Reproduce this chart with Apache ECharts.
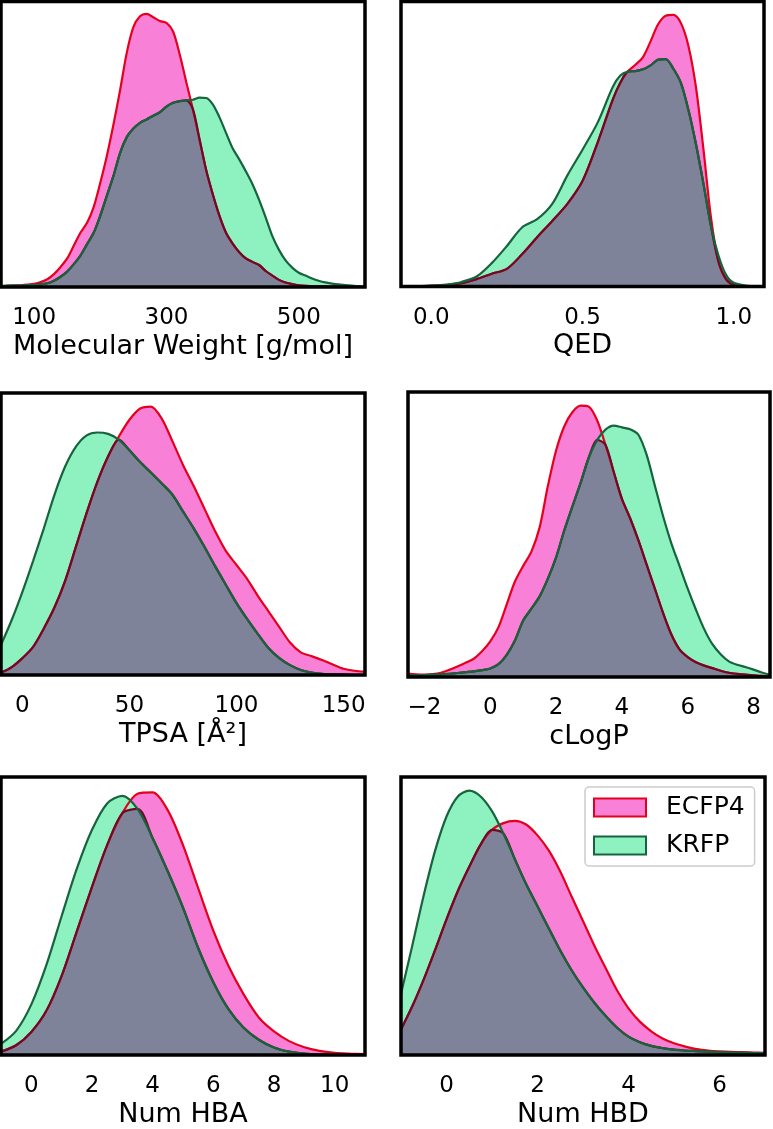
<!DOCTYPE html>
<html>
<head>
    <meta charset="utf-8">
    <title>ECFP4 vs KRFP property distributions</title>
    <script src="https://cdn.jsdelivr.net/npm/echarts@6/dist/echarts.min.js"></script>
</head>
<body style='background-color: #fff;margin:0px;'>
    <div id="main" style="width: 773px;height:1129px;"></div>
    <script type="text/javascript">
        // relative density (fraction of panel height)
        var mwX = [50,60,70,80,90,100,110,120,130,140,150,160,170,180,190,200,210,220,230,240,250,260,270,280,290,300,
                   310,320,330,340,350,360,370,380,390,400,410,420,430,440,450,460,470,480,490,500,510,520,530,540,550,560,570,580,590,600];
        var mwEcfp = [0.003,0.004,0.005,0.006,0.008,0.011,0.017,0.027,0.045,0.07,0.1,0.145,0.19,0.225,0.28,0.365,0.46,0.57,0.69,0.82,0.91,0.948,0.957,0.945,0.932,0.925,
                      0.895,0.815,0.717,0.622,0.517,0.41,0.325,0.25,0.19,0.152,0.122,0.1,0.088,0.077,0.056,0.04,0.025,0.016,0.01,0.006,0.004,0.003,0.002,0.002,0.001,0.001,0.001,0,0,0];
        var mwKrfp = [0.004,0.005,0.005,0.005,0.006,0.007,0.009,0.013,0.022,0.036,0.054,0.08,0.11,0.15,0.19,0.25,0.32,0.39,0.47,0.525,0.555,0.575,0.587,0.6,0.612,0.632,
                      0.645,0.651,0.654,0.656,0.663,0.662,0.64,0.595,0.54,0.486,0.447,0.405,0.36,0.305,0.243,0.178,0.13,0.093,0.068,0.05,0.04,0.03,0.022,0.016,0.012,0.009,0.007,0.005,0.003,0.002];

        var qedX = [-0.1,-0.05,0,0.05,0.1,0.15,0.2,0.25,0.3,0.35,0.4,0.45,0.5,0.55,0.6,0.625,0.65,0.675,0.7,0.725,0.75,0.775,0.8,0.825,0.85,0.875,0.9,0.925,0.95,0.975,1.0,1.05,1.1];
        var qedEcfp = [0,0.001,0.002,0.005,0.012,0.026,0.045,0.062,0.113,0.173,0.23,0.29,0.37,0.505,0.656,0.715,0.755,0.778,0.805,0.86,0.92,0.95,0.953,0.925,0.845,0.7,0.48,0.24,0.085,0.025,0.006,0.001,0];
        var qedKrfp = [0,0.001,0.003,0.007,0.016,0.035,0.082,0.142,0.207,0.236,0.29,0.39,0.48,0.575,0.7,0.74,0.754,0.756,0.762,0.776,0.796,0.798,0.765,0.715,0.62,0.5,0.36,0.21,0.107,0.04,0.013,0.002,0];

        var tpsaX = [-10,-5,0,5,10,15,20,25,30,35,40,45,50,55,60,65,70,75,80,85,90,95,100,105,110,115,120,125,130,135,140,145,150,155,160];
        var tpsaEcfp = [0.008,0.028,0.06,0.1,0.165,0.24,0.335,0.455,0.575,0.685,0.775,0.845,0.905,0.945,0.952,0.91,0.83,0.745,0.67,0.59,0.51,0.44,0.39,0.34,0.28,0.225,0.17,0.115,0.08,0.067,0.053,0.037,0.022,0.015,0.012];
        var tpsaKrfp = [0.107,0.195,0.295,0.405,0.52,0.64,0.74,0.81,0.85,0.86,0.855,0.835,0.797,0.755,0.718,0.68,0.64,0.58,0.52,0.455,0.386,0.32,0.255,0.198,0.145,0.095,0.06,0.035,0.018,0.009,0.004,0.002,0.001,0,0];

        var logpX = [-2.5,-2.25,-2,-1.75,-1.5,-1.25,-1,-0.75,-0.5,-0.25,0,0.25,0.5,0.75,1,1.25,1.5,1.75,2,2.25,2.5,2.75,3,3.25,3.5,3.75,4,4.25,4.5,4.75,
                     5,5.25,5.5,5.75,6,6.25,6.5,6.75,7,7.25,7.5,7.75,8,8.25,8.5];
        var logpEcfp = [0.012,0.009,0.008,0.01,0.015,0.025,0.037,0.05,0.064,0.09,0.125,0.175,0.255,0.335,0.39,0.44,0.525,0.67,0.795,0.88,0.93,0.952,0.948,0.9,0.815,0.72,0.625,0.557,0.48,0.395,
                        0.31,0.225,0.15,0.097,0.07,0.052,0.04,0.031,0.022,0.015,0.011,0.008,0.006,0.004,0.003];
        var logpKrfp = [0.005,0.006,0.007,0.008,0.009,0.011,0.014,0.017,0.02,0.024,0.03,0.045,0.078,0.128,0.198,0.24,0.283,0.345,0.42,0.515,0.6,0.683,0.772,0.832,0.868,0.882,0.876,0.869,0.85,0.78,
                        0.672,0.565,0.47,0.39,0.31,0.236,0.168,0.115,0.08,0.055,0.043,0.035,0.026,0.016,0.008];

        var hbaX = [-1,-0.5,0,0.5,1,1.5,2,2.5,3,3.5,4,4.5,5,5.5,6,6.5,7,7.5,8,8.5,9,9.5,10,10.5,11];
        var hbaEcfp = [0.012,0.035,0.083,0.16,0.285,0.445,0.605,0.755,0.87,0.94,0.945,0.88,0.755,0.6,0.447,0.32,0.218,0.135,0.085,0.05,0.028,0.015,0.008,0.005,0.003];
        var hbaKrfp = [0.04,0.087,0.182,0.325,0.5,0.67,0.81,0.905,0.932,0.885,0.78,0.66,0.53,0.385,0.262,0.165,0.098,0.055,0.027,0.012,0.005,0.002,0.001,0,0];

        var hbdX = [-1,-0.75,-0.5,-0.25,0,0.25,0.5,0.75,1,1.25,1.5,1.75,2,2.25,2.5,2.75,3,3.25,3.5,3.75,4,4.25,4.5,4.75,5,5.25,5.5,5.75,6,6.25,6.5,6.75,7];
        var hbdEcfp = [0.092,0.176,0.272,0.378,0.488,0.59,0.677,0.757,0.81,0.834,0.842,0.829,0.79,0.735,0.66,0.57,0.482,0.393,0.312,0.232,0.168,0.12,0.085,0.059,0.042,0.03,0.021,0.016,0.013,0.011,0.01,0.009,0.008];
        var hbdKrfp = [0.22,0.395,0.575,0.735,0.858,0.93,0.951,0.93,0.877,0.797,0.705,0.615,0.535,0.455,0.376,0.305,0.243,0.188,0.14,0.098,0.066,0.046,0.033,0.025,0.019,0.016,0.014,0.012,0.01,0.009,0.008,0.007,0.006];

        // tick labels per panel
        var mwTicks = [100, 300, 500];
        var qedTicks = [0, 0.5, 1.0];
        var tpsaTicks = [0, 50, 100, 150];
        var logpTicks = [-2, 0, 2, 4, 6, 8];
        var hbaTicks = [0, 2, 4, 6, 8, 10];
        var hbdTicks = [0, 2, 4, 6];

        var PINK = '#f880d6', RED = '#e6001e', MINT = '#8ef2c0', GREEN = '#16643c';
        var GRAY = '#7f8399', MAROON = '#6e0a28';
        var FONT = 'DejaVu Sans';

        var panels = [
            {name: 'Molecular Weight [g/mol]', x: mwX, e: mwEcfp, k: mwKrfp, ticks: mwTicks, min: 50, max: 600, dec: 0,
             rect: {left: 1, top: 1.5, width: 364, height: 285.5}},
            {name: 'QED', x: qedX, e: qedEcfp, k: qedKrfp, ticks: qedTicks, min: -0.1, max: 1.1, dec: 1,
             rect: {left: 401, top: 1.5, width: 363, height: 285}},
            {name: 'TPSA [Å²]', x: tpsaX, e: tpsaEcfp, k: tpsaKrfp, ticks: tpsaTicks, min: -10, max: 160, dec: 0,
             rect: {left: 1, top: 393, width: 364, height: 282}},
            {name: 'cLogP', x: logpX, e: logpEcfp, k: logpKrfp, ticks: logpTicks, min: -2.5, max: 8.5, dec: 0,
             rect: {left: 408, top: 392, width: 362, height: 285}},
            {name: 'Num HBA', x: hbaX, e: hbaEcfp, k: hbaKrfp, ticks: hbaTicks, min: -1, max: 11, dec: 0,
             rect: {left: 1, top: 777, width: 364, height: 283}},
            {name: 'Num HBD', x: hbdX, e: hbdEcfp, k: hbdKrfp, ticks: hbdTicks, min: -1, max: 7, dec: 0,
             rect: {left: 401, top: 777, width: 364, height: 283}}
        ];

        function pairs(xs, ys) {
            return xs.map(function (x, i) { return [x, ys[i]]; });
        }

        var grids = [], xAxes = [], yAxes = [], series = [];
        panels.forEach(function (p, i) {
            var r = p.rect;
            grids.push({left: r.left, top: r.top, width: r.width, height: r.height, show: true, z: 10,
                        backgroundColor: 'transparent', borderColor: '#000', borderWidth: 3.5});
            xAxes.push({
                gridIndex: i, type: 'value', min: p.min, max: p.max,
                axisLine: {show: false}, axisTick: {show: false}, splitLine: {show: false},
                axisLabel: {
                    customValues: p.ticks, margin: 20, fontSize: 23, color: '#000', fontFamily: FONT,
                    formatter: (function (dec) {
                        return function (v) { return v.toFixed(dec).replace('-', '\u2212'); };
                    })(p.dec)
                },
                name: p.name, nameLocation: 'middle', nameGap: 46,
                nameTextStyle: {fontSize: 27, color: '#000', fontFamily: FONT}
            });
            yAxes.push({gridIndex: i, type: 'value', min: 0, max: 1, show: false});

            // overlap of the two filled curves
            var overlap = p.e.map(function (v, j) { return Math.min(v, p.k[j]); });
            var common = {type: 'line', xAxisIndex: i, yAxisIndex: i, symbol: 'none', smooth: 0.3,
                          silent: true, animation: false};
            series.push(Object.assign({}, common, {
                name: 'ECFP4', data: pairs(p.x, p.e),
                itemStyle: {color: PINK}, lineStyle: {color: RED, width: 2.2},
                areaStyle: {color: PINK, opacity: 1}
            }));
            series.push(Object.assign({}, common, {
                name: 'KRFP', data: pairs(p.x, p.k),
                itemStyle: {color: MINT}, lineStyle: {width: 0},
                areaStyle: {color: MINT, opacity: 1}
            }));
            series.push(Object.assign({}, common, {
                name: 'overlap', data: pairs(p.x, overlap),
                lineStyle: {color: MAROON, width: 2.2},
                areaStyle: {color: GRAY, opacity: 1}
            }));
            series.push(Object.assign({}, common, {
                name: 'KRFP', data: pairs(p.x, p.k),
                lineStyle: {color: GREEN, width: 2.2}
            }));
        });

        var myChart = echarts.init(document.getElementById('main'));
        var option = {
            backgroundColor: '#fff',
            animation: false,
            textStyle: {fontFamily: FONT},
            grid: grids,
            xAxis: xAxes,
            yAxis: yAxes,
            legend: {
                orient: 'vertical', left: 585, top: 787, padding: [8, 10, 8, 8], itemGap: 13,
                itemWidth: 52, itemHeight: 18, borderColor: '#cccccc', borderWidth: 1.5, borderRadius: 4,
                backgroundColor: 'rgba(255,255,255,0.8)', z: 20,
                textStyle: {fontSize: 25, color: '#000', fontFamily: FONT, padding: [0, 0, 0, 15]},
                data: [
                    {name: 'ECFP4', icon: 'rect', itemStyle: {color: PINK, borderColor: RED, borderWidth: 2}},
                    {name: 'KRFP', icon: 'rect', itemStyle: {color: MINT, borderColor: GREEN, borderWidth: 2}}
                ]
            },
            series: series
        };
        myChart.setOption(option);
    </script>
</body>
</html>
